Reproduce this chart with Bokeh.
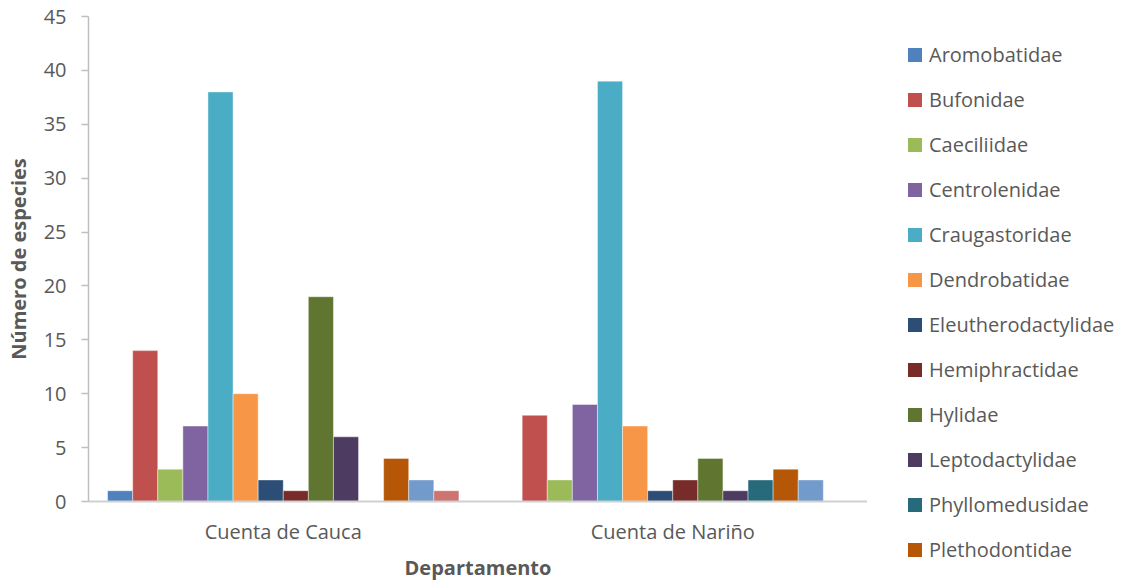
from bokeh.plotting import figure
from bokeh.models import ColumnDataSource, FactorRange, Range1d, SingleIntervalTicker, Div
from bokeh.layouts import row
from bokeh.transform import dodge
from bokeh.embed import file_html
from bokeh.resources import INLINE

departments = ["Cuenta de Cauca", "Cuenta de Nariño"]
families = ["Aromobatidae", "Bufonidae", "Caeciliidae", "Centrolenidae", "Craugastoridae",
            "Dendrobatidae", "Eleutherodactylidae", "Hemiphractidae", "Hylidae",
            "Leptodactylidae", "Phyllomedusidae", "Plethodontidae", "Ranidae", "Strabomantidae"]
cauca = [1, 14, 3, 7, 38, 10, 2, 1, 19, 6, 0, 4, 2, 1]
narino = [0, 8, 2, 9, 39, 7, 1, 2, 4, 1, 2, 3, 2, 0]
colors = ["#4F81BD", "#C0504D", "#9BBB59", "#8064A2", "#4BACC6", "#F79646", "#2C4D75",
          "#772C2A", "#5F7530", "#4D3B62", "#276A7C", "#B65708", "#729ACA", "#CD7371"]
legend_count = 12  # the reference legend shows only the first 12 families

FONT = "Open Sans"
TEXT = "#595959"
AX = "#BFBFBF"

data = {"dept": departments}
for f, a, b in zip(families, cauca, narino):
    data[f] = [a, b]
source = ColumnDataSource(data)

p = figure(x_range=FactorRange(*departments, range_padding=0), y_range=Range1d(0, 45),
           frame_width=779, frame_height=485, output_backend="svg", toolbar_location=None,
           min_border_left=88, min_border_right=0, min_border_top=16, min_border_bottom=83)

n = len(families)
bw = 0.902 / n
for i, (f, c) in enumerate(zip(families, colors)):
    p.vbar(x=dodge("dept", (i - (n - 1) / 2) * bw, range=p.x_range), top=f, width=bw,
           source=source, fill_color=c, line_color="white", line_width=0.6, line_alpha=0.7)

p.xgrid.grid_line_color = None
p.ygrid.grid_line_color = None
p.outline_line_color = None
p.background_fill_color = "white"
p.border_fill_color = "white"

p.yaxis.ticker = SingleIntervalTicker(interval=5)
p.yaxis.axis_line_color = AX
p.yaxis.axis_line_width = 1.5
p.yaxis.major_tick_line_color = AX
p.yaxis.major_tick_line_width = 1.5
p.yaxis.major_tick_out = 7
p.yaxis.major_tick_in = 0
p.yaxis.minor_tick_line_color = None
p.yaxis.major_label_standoff = 15
p.yaxis.major_label_text_font = FONT
p.yaxis.major_label_text_font_size = "20px"
p.yaxis.major_label_text_color = TEXT
p.yaxis.axis_label = "Número de especies"
p.yaxis.axis_label_text_font = FONT
p.yaxis.axis_label_text_font_size = "20px"
p.yaxis.axis_label_text_font_style = "bold"
p.yaxis.axis_label_text_color = TEXT
p.yaxis.axis_label_standoff = 9

p.xaxis.axis_line_color = "#D0D0D0"
p.xaxis.axis_line_width = 2
p.xaxis.major_tick_line_color = None
p.xaxis.major_tick_out = 0
p.xaxis.minor_tick_line_color = None
p.xaxis.major_label_standoff = 16
p.xaxis.major_label_text_font = FONT
p.xaxis.major_label_text_font_size = "20px"
p.xaxis.major_label_text_color = TEXT
p.xaxis.axis_label = "Departamento"
p.xaxis.axis_label_text_font = FONT
p.xaxis.axis_label_text_font_size = "20px"
p.xaxis.axis_label_text_font_style = "bold"
p.xaxis.axis_label_text_color = TEXT
p.xaxis.axis_label_standoff = 6

# Legend as a side panel next to the plot (first 12 families, as in the reference)
rows_html = []
for f, c in list(zip(families, colors))[:legend_count]:
    rows_html.append(
        '<div style="display:flex;align-items:center;height:45px;">'
        f'<span style="display:inline-block;flex:none;width:14px;height:14px;'
        f'background:{c};margin-right:7px;"></span>'
        f'<span>{f}</span></div>')
legend_html = ('<div style="padding:32px 0 0 41px;font-family:\'Open Sans\';font-size:20px;'
               f'color:{TEXT};white-space:nowrap;line-height:1;">' + "".join(rows_html) + '</div>')
legend_div = Div(text=legend_html, width=261, height=584, margin=0)

layout = row(p, legend_div, spacing=0)
open("out.html", "w").write(file_html(layout, INLINE))
